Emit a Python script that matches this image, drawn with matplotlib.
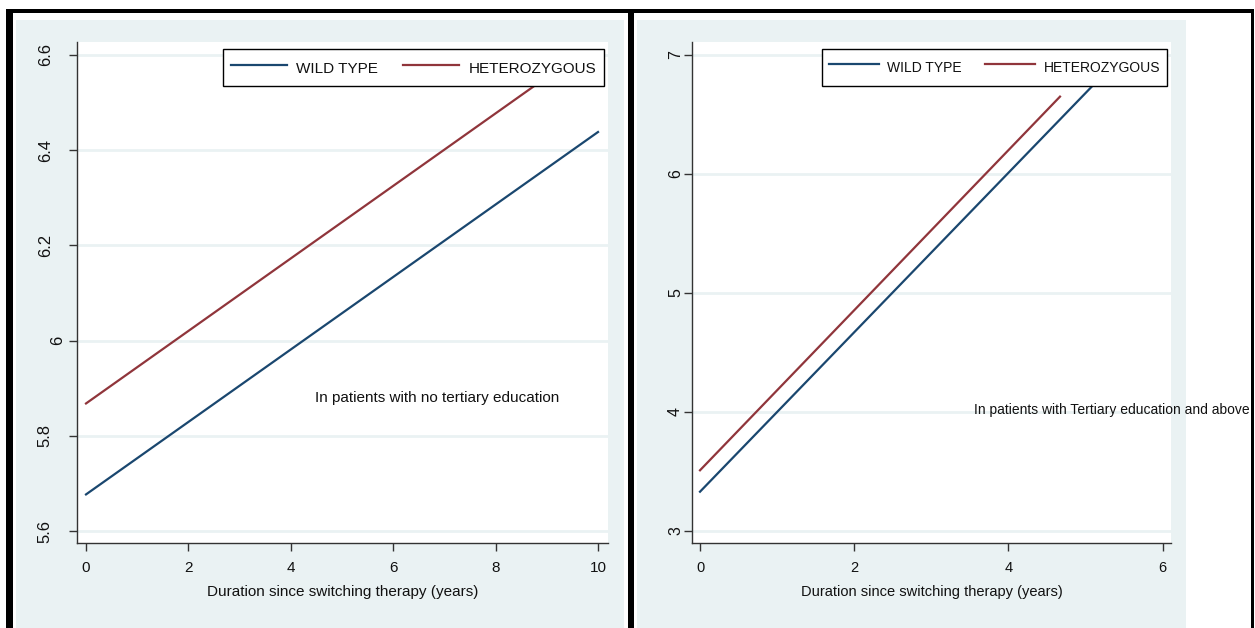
"""
Predicted outcome over time since switching therapy, by genotype,
split by education level (two Stata-style panels side by side).
"""

import matplotlib

matplotlib.use("Agg")

import matplotlib.pyplot as plt
from matplotlib.patches import Rectangle

# ---- Data ----
legend_labels = ["WILD TYPE", "HETEROZYGOUS"]

# Left panel: no tertiary education
left_wt_years = [0, 10]
left_wt_values = [5.677, 6.438]
left_het_years = [0, 9.6]
left_het_values = [5.868, 6.599]
left_yticks = [5.6, 5.8, 6.0, 6.2, 6.4, 6.6]
left_yticklabels = ["5.6", "5.8", "6", "6.2", "6.4", "6.6"]
left_xticks = [0, 2, 4, 6, 8, 10]
left_note = "In patients with no tertiary education"

# Right panel: tertiary education and above
right_wt_years = [0, 5.3]
right_wt_values = [3.33, 6.88]
right_het_years = [0, 4.67]
right_het_values = [3.51, 6.65]
right_yticks = [3, 4, 5, 6, 7]
right_yticklabels = ["3", "4", "5", "6", "7"]
right_xticks = [0, 2, 4, 6]
right_note = "In patients with Tertiary education and above"

x_label = "Duration since switching therapy (years)"

# Stata s2color-ish palette
NAVY = "#1a476f"
MAROON = "#90353b"
PANEL_BG = "#eaf2f3"
GRID = "#eaf2f3"
TEXT = "#111111"

plt.rcParams["font.family"] = ["Liberation Sans", "DejaVu Sans"]


def style_axes(ax, yticks, yticklabels, xticks, fs, ypad):
    ax.set_facecolor("white")
    for side in ("top", "right"):
        ax.spines[side].set_visible(False)
    for side in ("left", "bottom"):
        ax.spines[side].set_color("#333333")
        ax.spines[side].set_linewidth(1.0)
    ax.set_yticks(yticks)
    ax.set_yticklabels(yticklabels, rotation=90, va="center")
    ax.set_xticks(xticks)
    ax.tick_params(axis="both", direction="out", length=5.5, width=1,
                   color="#333333", labelcolor=TEXT)
    ax.tick_params(axis="x", labelsize=fs, pad=7.5)
    ax.tick_params(axis="y", labelsize=fs + 1, pad=ypad)
    ax.grid(axis="y", color=GRID, linewidth=2)
    ax.set_axisbelow(True)
    ax.set_xlabel(x_label, fontsize=fs, color=TEXT, labelpad=7.5)


def add_legend(ax, handles, fs, anchor, handlelength, columnspacing,
               handleheight):
    leg = ax.legend(handles, legend_labels, ncol=2, loc="upper right",
                    bbox_to_anchor=anchor, borderaxespad=0, fontsize=fs,
                    frameon=True, fancybox=False, framealpha=1,
                    edgecolor="black", handlelength=handlelength,
                    handleheight=handleheight, handletextpad=0.62,
                    columnspacing=columnspacing, borderpad=0.5)
    leg.get_frame().set_linewidth(1.0)
    for t in leg.get_texts():
        t.set_color(TEXT)
    leg.set_zorder(10)
    return leg


def main():
    fig = plt.figure(figsize=(12.55, 6.28), dpi=100)
    W, H = 1255.0, 628.0

    def rect(x0, y0, x1, y1, color):
        # pixel coordinates (origin top-left) -> figure fraction
        fig.patches.append(Rectangle((x0 / W, 1 - y1 / H), (x1 - x0) / W,
                                     (y1 - y0) / H, transform=fig.transFigure,
                                     facecolor=color, edgecolor="none",
                                     zorder=-5))

    # Panel backgrounds and the black frame
    rect(16, 20, 624, 628, PANEL_BG)
    rect(637, 20, 1186, 628, PANEL_BG)
    rect(6, 9, 1254, 13, "black")
    rect(6, 9, 13, 628, "black")
    rect(628, 9, 634, 628, "black")
    rect(1251, 9, 1254, 628, "black")

    # ---- Left panel ----
    ax1 = fig.add_axes([77 / W, 1 - 543 / H, (608 - 77) / W, (543 - 42) / H])
    l_wt, = ax1.plot(left_wt_years, left_wt_values, color=NAVY, lw=1.6)
    l_het, = ax1.plot(left_het_years, left_het_values, color=MAROON, lw=1.6)
    ax1.set_xlim(-0.176, 10.195)
    ax1.set_ylim(5.575, 6.627)
    style_axes(ax1, left_yticks, left_yticklabels, left_xticks, 11, 12)
    # the single-digit "6" label sits closer to the axis in the original
    ax1.yaxis.get_major_ticks()[left_yticklabels.index("6")].set_pad(3)
    add_legend(ax1, [l_wt, l_het], 11, (1 - 4 / 531, 1 - 7 / 501),
               handlelength=3.66, columnspacing=1.64, handleheight=1.85)
    ax1.text(4.47, 5.88, left_note, fontsize=11, color=TEXT,
             va="center", ha="left")

    # ---- Right panel ----
    ax2 = fig.add_axes([692 / W, 1 - 543 / H, (1171 - 692) / W, (543 - 42) / H])
    r_wt, = ax2.plot(right_wt_years, right_wt_values, color=NAVY, lw=1.6)
    r_het, = ax2.plot(right_het_years, right_het_values, color=MAROON, lw=1.6)
    ax2.set_xlim(-0.104, 6.11)
    ax2.set_ylim(2.899, 7.109)
    style_axes(ax2, right_yticks, right_yticklabels, right_xticks, 10.5, 1)
    add_legend(ax2, [r_wt, r_het], 10, (1 - 4 / 479, 1 - 7 / 501),
               handlelength=3.6, columnspacing=1.65, handleheight=2.2)
    ax2.text(3.56, 4.02, right_note, fontsize=10, color=TEXT,
             va="center", ha="left", clip_on=False, zorder=5)

    fig.savefig("out.png", dpi=100)
    print("Saved plot to out.png")


if __name__ == "__main__":
    main()
